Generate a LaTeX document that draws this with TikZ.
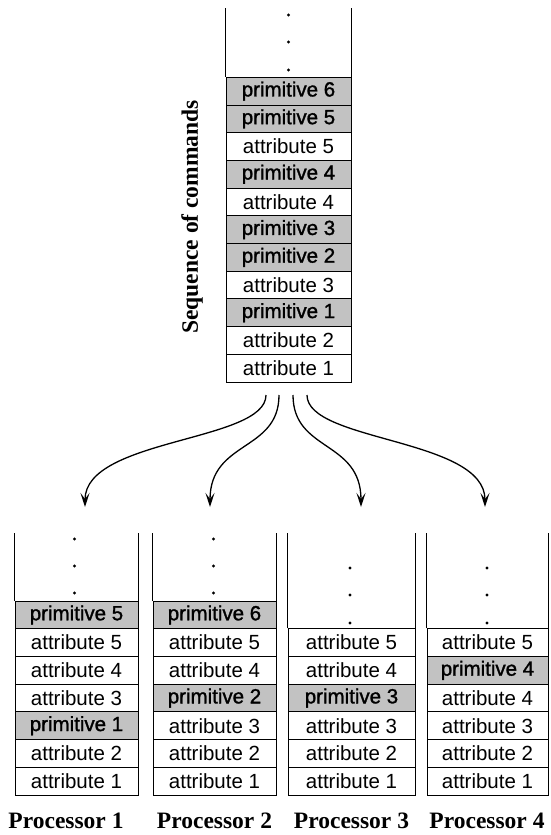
\documentclass[tikz,border=0pt]{standalone}
\usepackage{fontspec}
\setmainfont{Liberation Serif}
\newfontfamily\cellfont{Liberation Sans}
\newfontfamily\primfont[FakeBold=1.4]{Liberation Sans}
\usetikzlibrary{arrows.meta}
\definecolor{shade}{gray}{0.76}

\begin{document}
\begin{tikzpicture}[x=1pt,y=-1pt,line width=0.9pt,
  cell/.style={draw,rectangle,inner sep=0pt,minimum height=27.7pt,
               font=\cellfont\fontsize{20.5}{22}\selectfont},
  prim/.style={cell,fill=shade,font=\primfont\fontsize{20.5}{22}\selectfont},
  dotmark/.style={circle,fill=black,inner sep=0pt,minimum size=3.4pt},
  flow/.style={-{Stealth[length=14pt,width=9pt,inset=6pt]},line width=1.3pt},
  caption/.style={font=\bfseries\fontsize{23.5}{26}\selectfont,inner sep=0pt}]
\useasboundingbox (0,0) rectangle (550,835);

% ---- incoming command stream (bottom row first) ----
\foreach \k/\txt/\sty in {1/attribute 1/cell, 2/attribute 2/cell,
    3/primitive 1/prim, 4/attribute 3/cell, 5/primitive 2/prim,
    6/primitive 3/prim, 7/attribute 4/cell, 8/primitive 4/prim,
    9/attribute 5/cell, 10/primitive 5/prim, 11/primitive 6/prim}
  \node[\sty,minimum width=125pt] (top\k) at (288.5,{382-(\k-0.5)*27.7}) {\txt};
\draw (top11.north west) -- (top11.north west |- 0,8);
\draw (top11.north east) -- (top11.north east |- 0,8);
\foreach \y [count=\i] in {15,42,70}
  \node[dotmark] (topdot\i) at (288.5,\y) {};
\node[caption,rotate=90] (seq) at (192,217) {Sequence of commands};

% ---- processor 1 ----
\foreach \k/\txt/\sty in {1/attribute 1/cell, 2/attribute 2/cell,
    3/primitive 1/prim, 4/attribute 3/cell, 5/attribute 4/cell,
    6/attribute 5/cell, 7/primitive 5/prim}
  \node[\sty,minimum width=123pt] (pa\k) at (76.5,{795-(\k-0.5)*27.7}) {\txt};
% ---- processor 2 ----
\foreach \k/\txt/\sty in {1/attribute 1/cell, 2/attribute 2/cell,
    3/attribute 3/cell, 4/primitive 2/prim, 5/attribute 4/cell,
    6/attribute 5/cell, 7/primitive 6/prim}
  \node[\sty,minimum width=123pt] (pb\k) at (214.5,{795-(\k-0.5)*27.7}) {\txt};
% ---- processor 3 ----
\foreach \k/\txt/\sty in {1/attribute 1/cell, 2/attribute 2/cell,
    3/attribute 3/cell, 4/primitive 3/prim, 5/attribute 4/cell,
    6/attribute 5/cell}
  \node[\sty,minimum width=127pt] (pc\k) at (351.5,{795-(\k-0.5)*27.7}) {\txt};
% ---- processor 4 ----
\foreach \k/\txt/\sty in {1/attribute 1/cell, 2/attribute 2/cell,
    3/attribute 3/cell, 4/attribute 4/cell, 5/primitive 4/prim,
    6/attribute 5/cell}
  \node[\sty,minimum width=121pt] (pd\k) at (487.5,{795-(\k-0.5)*27.7}) {\txt};

% open tops of the processor queues
\foreach \n in {pa7,pb7,pc6,pd6} {
  \draw (\n.north west) -- (\n.north west |- 0,533);
  \draw (\n.north east) -- (\n.north east |- 0,533);
}
\foreach \y [count=\i] in {539,566,593} {
  \node[dotmark] (padot\i) at (74.5,\y) {};
  \node[dotmark] (pbdot\i) at (213.5,\y) {};
}
\foreach \y [count=\i] in {568,595,623} {
  \node[dotmark] (pcdot\i) at (350,\y) {};
  \node[dotmark] (pddot\i) at (487,\y) {};
}

% processor captions
\node[caption,anchor=base] (cap1) at (66,828) {Processor 1};
\node[caption,anchor=base] (cap2) at (214.5,828) {Processor 2};
\node[caption,anchor=base] (cap3) at (351.5,828) {Processor 3};
\node[caption,anchor=base] (cap4) at (487,828) {Processor 4};

% ---- distribution arrows ----
\coordinate (s1) at (266,395);
\coordinate (s2) at (279,395);
\coordinate (s3) at (293,395);
\coordinate (s4) at (307,395);
\coordinate (e1) at (85,507);
\coordinate (e2) at (210,507);
\coordinate (e3) at (361,507);
\coordinate (e4) at (485,507);
\draw[flow] (s1) .. controls (266,442) and (85,438) .. (e1);
\draw[flow] (s2) .. controls (279,452) and (210,440) .. (e2);
\draw[flow] (s3) .. controls (293,452) and (361,440) .. (e3);
\draw[flow] (s4) .. controls (307,442) and (485,438) .. (e4);
\end{tikzpicture}
\end{document}
